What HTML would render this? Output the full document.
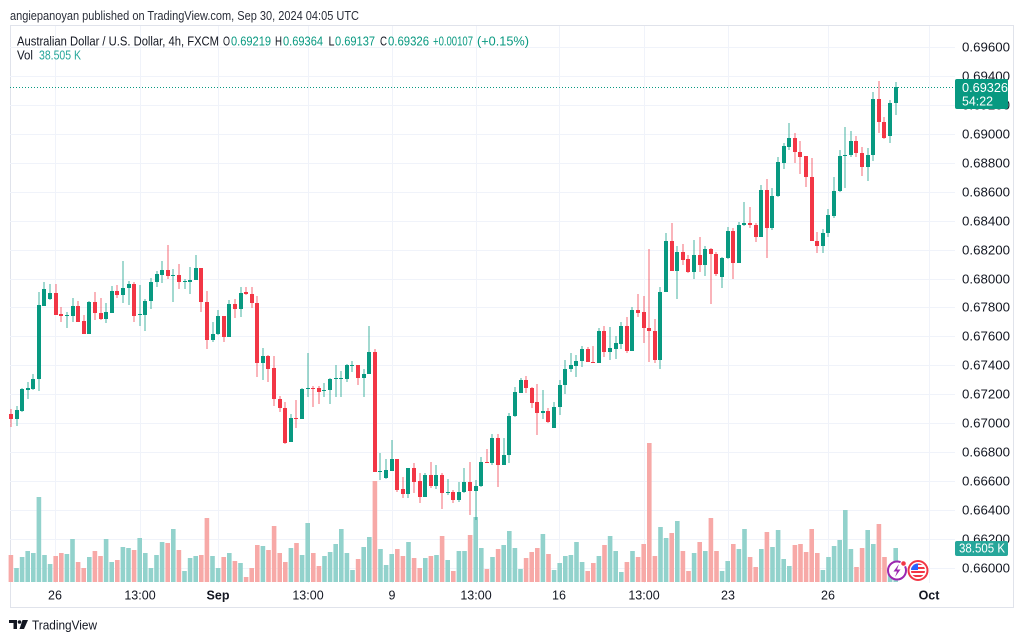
<!DOCTYPE html>
<html>
<head>
<meta charset="utf-8">
<style>
html,body{margin:0;padding:0;background:#fff;}
body{width:1024px;height:641px;overflow:hidden;}
svg{display:block;font-family:"Liberation Sans",sans-serif;}
</style>
</head>
<body>
<svg id="s" width="1024" height="641" viewBox="0 0 1024 641" xmlns="http://www.w3.org/2000/svg">
<rect x="0" y="0" width="1024" height="641" fill="#ffffff"/>
<!-- header -->
<text x="10" y="20" font-size="13" fill="#2a2e39" textLength="349" lengthAdjust="spacingAndGlyphs">angiepanoyan published on TradingView.com, Sep 30, 2024 04:05 UTC</text>
<!-- frame -->
<rect x="10.5" y="25.5" width="1003" height="582" fill="none" stroke="#e0e3eb" stroke-width="1"/>
<!-- grid -->
<g id="grid" stroke="#f0f3fa" stroke-width="1"></g>
<!-- legend -->
<g font-size="12.5">
<text x="17" y="45.5" fill="#131722" textLength="202" lengthAdjust="spacingAndGlyphs">Australian Dollar / U.S. Dollar, 4h, FXCM</text>
<text x="223" y="45.5" fill="#131722" textLength="7" lengthAdjust="spacingAndGlyphs">O</text>
<text x="231" y="45.5" fill="#089981" textLength="40" lengthAdjust="spacingAndGlyphs">0.69219</text>
<text x="275" y="45.5" fill="#131722" textLength="7" lengthAdjust="spacingAndGlyphs">H</text>
<text x="283" y="45.5" fill="#089981" textLength="40" lengthAdjust="spacingAndGlyphs">0.69364</text>
<text x="328.5" y="45.5" fill="#131722" textLength="6" lengthAdjust="spacingAndGlyphs">L</text>
<text x="335" y="45.5" fill="#089981" textLength="40" lengthAdjust="spacingAndGlyphs">0.69137</text>
<text x="380" y="45.5" fill="#131722" textLength="7" lengthAdjust="spacingAndGlyphs">C</text>
<text x="388" y="45.5" fill="#089981" textLength="41" lengthAdjust="spacingAndGlyphs">0.69326</text>
<text x="433" y="45.5" fill="#089981" textLength="40" lengthAdjust="spacingAndGlyphs">+0.00107</text>
<text x="477" y="45.5" fill="#089981" textLength="52" lengthAdjust="spacingAndGlyphs">(+0.15%)</text>
<text x="17" y="59.5" fill="#131722" textLength="16" lengthAdjust="spacingAndGlyphs">Vol</text>
<text x="39" y="59.5" fill="#26a69a" textLength="42" lengthAdjust="spacingAndGlyphs">38.505 K</text>
</g>
<!-- price axis labels -->
<g id="plabels" font-size="12.5" fill="#131722"></g>
<!-- time labels -->
<g font-size="12.5" fill="#131722" text-anchor="middle">
<text x="55" y="599.5">26</text>
<text x="140" y="599.5">13:00</text>
<text x="218" y="599.5" font-weight="bold">Sep</text>
<text x="308" y="599.5">13:00</text>
<text x="392" y="599.5">9</text>
<text x="476" y="599.5">13:00</text>
<text x="559" y="599.5">16</text>
<text x="644" y="599.5">13:00</text>
<text x="728" y="599.5">23</text>
<text x="828" y="599.5">26</text>
<text x="929" y="599.5" font-weight="bold">Oct</text>
</g>
<g id="vol"></g>
<g id="candles"></g>
<!-- last price dotted line -->
<line x1="10" y1="87.5" x2="955" y2="87.5" stroke="#089981" stroke-width="1" stroke-dasharray="1,2"/>
<!-- price box -->
<rect x="955" y="79" width="53" height="30" rx="2" fill="#089981"/>
<text x="962" y="92" font-size="12.5" fill="#ffffff" textLength="46" lengthAdjust="spacingAndGlyphs">0.69326</text>
<text x="962" y="105.5" font-size="12.5" fill="#ffffff" textLength="31" lengthAdjust="spacingAndGlyphs">54:22</text>
<!-- volume box -->
<rect x="955" y="541" width="53" height="15" rx="2" fill="#26a69a"/>
<text x="959" y="552.5" font-size="12.5" fill="#ffffff" textLength="46" lengthAdjust="spacingAndGlyphs">38.505 K</text>
<!-- icons -->
<circle cx="897" cy="570.5" r="9" fill="#ffffff" stroke="#9c27b0" stroke-width="2"/>
<path d="M899 564 L893.5 571.5 L897 571.5 L895 577 L900.5 569.5 L897 569.5 Z" fill="#9c27b0"/>
<circle cx="903.5" cy="563.5" r="2.8" fill="#f23645" stroke="#fff" stroke-width="1"/>
<circle cx="918" cy="570.5" r="9.5" fill="#ffffff" stroke="#f23645" stroke-width="2"/>
<clipPath id="fc"><circle cx="918" cy="570.5" r="7"/></clipPath>
<g clip-path="url(#fc)">
<rect x="910" y="563" width="16" height="16" fill="#ffffff"/>
<rect x="910" y="563" width="16" height="2" fill="#f23645"/>
<rect x="910" y="567" width="16" height="2" fill="#f23645"/>
<rect x="910" y="571" width="16" height="2" fill="#f23645"/>
<rect x="910" y="575" width="16" height="2" fill="#f23645"/>
<rect x="910" y="563" width="8" height="7" fill="#2962ff"/>
</g>
<!-- TradingView logo -->
<g fill="#131722">
<path d="M9 620 H17 V629 H13.5 V623 H9 Z"/>
<circle cx="19.5" cy="622" r="1.8"/>
<path d="M22.5 620 H28 L24 629 H19.5 Z"/>
</g>
<text x="32" y="629.5" font-size="13" fill="#131722" textLength="65" lengthAdjust="spacingAndGlyphs">TradingView</text>
</svg>
<script>
(function(){
var NS="http://www.w3.org/2000/svg";
function el(parent,tag,attrs,txt){var e=document.createElementNS(NS,tag);for(var k in attrs)e.setAttribute(k,attrs[k]);if(txt!==undefined)e.textContent=txt;parent.appendChild(e);return e;}
var grid=document.getElementById('grid');
var pl=document.getElementById('plabels');
for(var k=0;k<=18;k++){
  var y=Math.round(47+k*28.94)+0.5;
  el(grid,'line',{x1:10,y1:y,x2:955,y2:y});
  var v=(0.696-k*0.002).toFixed(5);
  el(pl,'text',{x:962,y:(y+4).toFixed(1),textLength:48,lengthAdjust:'spacingAndGlyphs'},v);
}
var vx=[55,140,218,308,392,476,559,644,728,828,929];
for(var j=0;j<vx.length;j++){el(grid,'line',{x1:vx[j]+0.5,y1:26,x2:vx[j]+0.5,y2:583});}
var D=[
[0,414,419,409,427],[1,410,419,406,426],[1,389,411,388,412],[1,388,390,382,399],[1,379,389,374,390],
[1,305,379,292,391],[1,289,306,282,306],[1,293,299,284,300],[0,293,315,284,315],[0,314,316,307,322],
[1,315,316,312,328],[1,306,316,298,322],[0,306,322,301,322],[0,321,334,315,334],[1,302,334,301,334],
[0,302,313,292,320],[0,313,319,298,320],[1,312,319,303,323],[1,291,313,286,313],[0,291,295,285,298],
[1,288,295,261,303],[1,284,288,281,305],[0,284,316,282,322],[1,314,315,285,326],[1,301,315,299,331],
[1,282,301,278,309],[1,274,282,271,287],[1,270,275,261,283],[0,270,276,245,279],[1,275,276,269,302],
[0,275,282,264,289],[1,281,282,279,289],[1,280,282,267,294],[1,268,280,255,280],[0,268,302,268,312],
[0,302,340,291,349],[1,334,340,322,342],[1,316,334,310,335],[0,316,337,316,342],[1,304,337,300,337],
[0,304,309,299,318],[1,293,309,287,317],[0,292,294,287,295],[0,294,303,287,308],[0,303,363,296,377],
[1,356,363,348,380],[0,356,369,355,382],[0,368,399,356,406],[0,399,408,396,412],[0,408,443,402,444],
[1,418,442,414,442],[0,418,419,400,428],[1,389,419,388,419],[1,388,389,353,397],[0,388,389,386,407],
[0,388,392,386,404],[1,390,391,383,397],[1,379,390,378,404],[1,378,379,365,397],[1,378,379,371,397],
[1,365,379,364,382],[1,365,366,361,372],[0,365,378,365,385],[1,374,378,369,397],[1,352,374,326,374],
[0,352,472,349,472],[1,471,472,453,480],[1,470,478,459,479],[1,459,471,440,471],[0,459,490,459,492],
[0,489,494,477,498],[1,468,494,468,498],[0,468,482,463,493],[0,481,497,473,503],[1,475,497,473,497],
[0,475,486,462,488],[1,475,486,465,489],[0,475,493,473,509],[1,492,493,479,495],[0,492,500,490,503],
[1,492,500,482,502],[1,482,492,468,493],[0,482,491,462,515],[1,486,491,480,520],[1,462,486,457,487],
[0,462,463,449,463],[1,438,463,434,465],[0,438,465,434,487],[1,455,465,438,465],[1,416,455,413,463],
[1,392,416,387,417],[1,380,393,378,393],[0,380,388,376,393],[0,388,403,387,408],[0,402,413,384,435],
[1,411,413,390,419],[0,411,422,408,423],[1,407,428,402,428],[1,385,407,380,415],[1,369,385,360,394],
[1,365,369,353,372],[1,361,366,355,377],[1,349,361,346,367],[0,349,362,347,362],[0,362,363,346,363],
[1,331,363,328,363],[0,331,352,326,357],[1,348,352,327,360],[1,343,349,336,359],[1,326,344,322,349],
[0,326,351,317,353],[1,310,351,307,351],[0,310,313,294,317],[0,312,328,296,343],[0,328,331,249,362],
[0,331,360,319,363],[1,292,360,287,369],[1,241,292,233,292],[0,241,271,223,271],[1,252,271,246,299],
[0,252,260,244,265],[0,259,272,255,273],[1,255,272,240,279],[0,255,265,237,272],[1,249,265,246,276],
[0,249,254,248,304],[0,254,274,252,276],[1,258,277,257,288],[1,231,258,227,259],[0,231,263,228,279],
[1,225,263,222,263],[1,223,225,202,226],[0,223,225,207,228],[0,225,237,223,242],[1,190,237,185,237],
[0,190,228,179,258],[1,196,228,188,230],[1,162,196,157,197],[1,146,163,143,169],[1,138,147,123,150],
[0,138,152,133,163],[0,152,157,141,174],[0,156,177,156,187],[0,177,241,158,241],[0,241,246,232,253],
[1,233,246,229,253],[1,215,233,209,237],[1,191,216,177,218],[1,156,191,150,192],[1,155,156,127,188],
[1,141,155,131,157],[0,141,153,136,157],[0,153,167,147,176],[1,155,167,148,181],[1,99,155,92,161],
[0,99,122,81,133],[0,122,138,117,139],[1,103,136,100,143],[1,87,103,82,115]
];
var V=[555,568,557,551,553,497,555,564,556,553,
554,539,562,568,557,551,556,539,562,560,
547,548,550,538,553,568,555,542,543,529,
550,571,558,556,555,518,556,568,557,553,
561,563,577,568,545,546,550,526,553,562,
548,543,555,523,553,566,556,552,544,529,
553,570,559,547,537,481,549,565,554,549,
556,542,558,568,558,556,555,536,560,571,
551,551,535,517,548,569,557,549,545,531,
548,569,558,552,548,534,554,570,563,556,
555,542,562,571,563,556,545,536,551,572,
562,551,557,544,443,556,527,538,533,521,
551,571,553,542,551,518,551,571,561,544,
549,529,557,567,549,532,547,530,559,566,
545,544,552,529,553,570,557,546,540,510,
549,567,548,530,544,524,557,568,548];
var vg=document.getElementById('vol');
var cg=document.getElementById('candles');
for(var i=0;i<D.length;i++){
  var d=D[i];var x=10.9+5.6*i;var g=d[0];
  var col=g?'#089981':'#f23645';
  var vt=V[i];
  el(vg,'rect',{x:(x-2.3).toFixed(2),y:vt,width:4.6,height:(582-vt),fill:g?'#92d2cc':'#f7a9a7'});
  el(cg,'rect',{x:(Math.round(x)-0.5).toFixed(2),y:d[3],width:1,height:Math.max(1,d[4]-d[3]),fill:col,'fill-opacity':0.75});
  el(cg,'rect',{x:(Math.round(x)-2).toFixed(2),y:d[1],width:4,height:Math.max(1,d[2]-d[1]),fill:col});
}
})();
</script>
</body>
</html>
